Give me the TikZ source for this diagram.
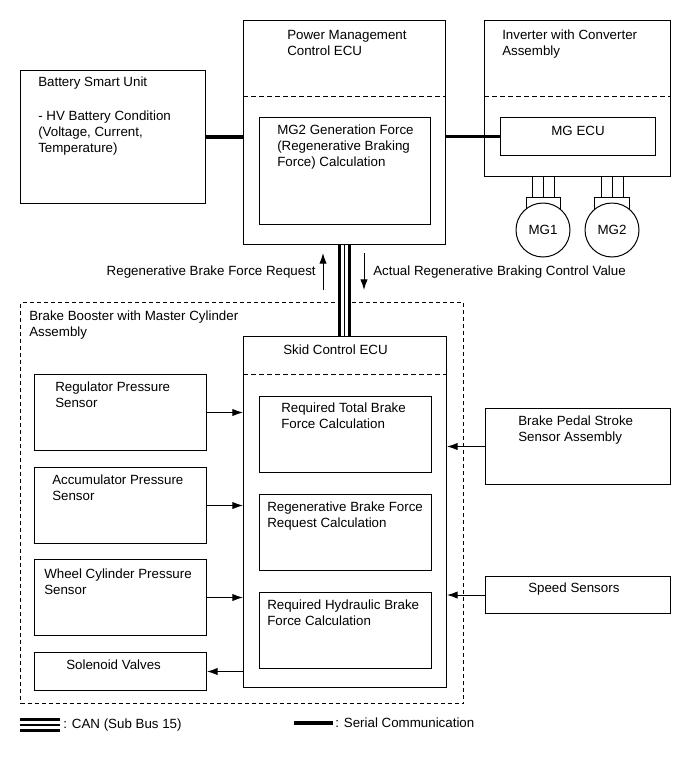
\documentclass[tikz,border=0pt]{standalone}
\usepackage{fontspec}
\setmainfont{Liberation Sans}
\usetikzlibrary{positioning,arrows.meta}

\begin{document}
\begin{tikzpicture}[x=0.75pt, y=-0.75pt,
    box/.style={draw, line width=0.75pt, anchor=north west, inner sep=0pt},
    txt/.style={anchor=north west, inner sep=0pt, align=left, font=\fontsize{10}{12}\selectfont},
    sep/.style={draw, line width=0.75pt, dash pattern=on 3.5pt off 2.5pt},
    line/.style={draw, line width=0.75pt, -{Latex[length=8pt, width=5.5pt]}},
    wire/.style={draw, line width=0.75pt},
    serial/.style={draw, line width=2.5pt},
    canbus/.style={draw, line width=10pt, postaction={draw=white, line width=5.5pt}, postaction={draw=black, line width=1.1pt}}]

    \useasboundingbox (0,0) rectangle (691,757);

    % hybrid side
    \node [box, minimum width=138.75pt, minimum height=99.75pt] (bsu) at (20,70) {};
    \node [txt] (bsu-t) at ([xshift=13.5pt, yshift=-5.25pt]bsu.north west) {Battery Smart Unit\\[13.5pt]- HV Battery Condition\\(Voltage, Current,\\Temperature)};

    \node [box, minimum width=151.5pt, minimum height=168pt] (pmc) at (243,20) {};
    \node [txt] (pmc-t) at ([xshift=33pt, yshift=-7.5pt]pmc.north west) {Power Management\\Control ECU};
    \path [sep] ([yshift=-57pt]pmc.north west) -- ([yshift=-57pt]pmc.north east);
    \node [box, minimum width=128.25pt, minimum height=80.25pt] (mg2c) at (259,117) {};
    \node [txt] (mg2c-t) at ([xshift=13.5pt, yshift=-6pt]mg2c.north west) {MG2 Generation Force\\(Regenerative Braking\\Force) Calculation};

    \node [box, minimum width=139.5pt, minimum height=117pt] (inv) at (484,20) {};
    \node [txt] (inv-t) at ([xshift=13.5pt, yshift=-7.5pt]inv.north west) {Inverter with Converter\\Assembly};
    \path [sep] ([yshift=-57pt]inv.north west) -- ([yshift=-57pt]inv.north east);
    \node [box, minimum width=116.25pt, minimum height=28.5pt] (mgecu) at (500,117) {};
    \node [txt, anchor=center] (mgecu-t) at ([yshift=4.5pt]mgecu.center) {MG ECU};

    % motors
    \node [box, anchor=center, minimum width=25.5pt, minimum height=11.25pt] (mg1s) at (543,204.5) {};
    \node [box, anchor=center, minimum width=26.25pt, minimum height=11.25pt] (mg2s) at (612,204.5) {};
    \foreach \dx in {-8.25,0,8.25} {
        \path [wire] ([xshift=\dx pt]mg1s.north) -- ([xshift=\dx pt]mg1s.north |- inv.south);
        \path [wire] ([xshift=\dx pt]mg2s.north) -- ([xshift=\dx pt]mg2s.north |- inv.south);
    }
    \node [box, anchor=center, circle, fill=white, minimum size=40.5pt, font=\fontsize{10}{12}\selectfont] (mg1) at (543,230) {MG1};
    \node [box, anchor=center, circle, fill=white, minimum size=40.5pt, font=\fontsize{10}{12}\selectfont] (mg2) at (612,230) {MG2};

    \path [serial] (bsu.east) -- (bsu.east -| pmc.west);
    \path [serial] (mgecu.west -| pmc.east) -- (mgecu.west);

    % brake side
    \node [box, dash pattern=on 3pt off 2.25pt, minimum width=332.25pt, minimum height=300.75pt] (booster) at (20,302) {};
    \node [txt] (booster-t) at ([xshift=6.75pt, yshift=-6.75pt]booster.north west) {Brake Booster with Master Cylinder\\Assembly};

    \node [box, minimum width=152.25pt, minimum height=263.25pt] (skid) at (243,336) {};
    \node [txt] (skid-t) at ([xshift=30pt, yshift=-6.75pt]skid.north west) {Skid Control ECU};
    \path [sep] ([yshift=-28.5pt]skid.north west) -- ([yshift=-28.5pt]skid.north east);
    \node [box, minimum width=129pt, minimum height=57pt] (tbf) at (259,396) {};
    \node [box, minimum width=129pt, minimum height=57pt, below=15.75pt of tbf] (rbf) {};
    \node [box, minimum width=129pt, minimum height=57pt, below=15.75pt of rbf] (hbf) {};
    \node [txt] (tbf-t) at ([xshift=16.5pt, yshift=-5.25pt]tbf.north west) {Required Total Brake\\Force Calculation};
    \node [txt] (rbf-t) at ([xshift=6pt, yshift=-6pt]rbf.north west) {Regenerative Brake Force\\Request Calculation};
    \node [txt] (hbf-t) at ([xshift=6pt, yshift=-6pt]hbf.north west) {Required Hydraulic Brake\\Force Calculation};

    \node [box, minimum width=129pt, minimum height=57pt] (reg) at (34,374) {};
    \node [box, minimum width=129pt, minimum height=57pt, below=12pt of reg] (acc) {};
    \node [box, minimum width=129pt, minimum height=57pt, below=11.25pt of acc] (whl) {};
    \node [box, minimum width=129pt, minimum height=28.5pt, below=12pt of whl] (sol) {};
    \node [txt] (reg-t) at ([xshift=15.75pt, yshift=-6pt]reg.north west) {Regulator Pressure\\Sensor};
    \node [txt] (acc-t) at ([xshift=13.5pt, yshift=-6pt]acc.north west) {Accumulator Pressure\\Sensor};
    \node [txt] (whl-t) at ([xshift=7.5pt, yshift=-7.5pt]whl.north west) {Wheel Cylinder Pressure\\Sensor};
    \node [txt] (sol-t) at ([xshift=24pt, yshift=-6pt]sol.north west) {Solenoid Valves};

    \node [box, minimum width=138.75pt, minimum height=57pt] (bps) at (485,408) {};
    \node [box, minimum width=138.75pt, minimum height=27.75pt] (spd) at (485,576) {};
    \node [txt] (bps-t) at ([xshift=24.75pt, yshift=-6pt]bps.north west) {Brake Pedal Stroke\\Sensor Assembly};
    \node [txt] (spd-t) at ([xshift=32.25pt, yshift=-5.25pt]spd.north west) {Speed Sensors};

    \path [line] (reg.east) -- (reg.east -| skid.west);
    \path [line] (acc.east) -- (acc.east -| skid.west);
    \path [line] (whl.east) -- (whl.east -| skid.west);
    \path [line] (sol.east -| skid.west) -- (sol.east);
    \path [line] (bps.west) -- (bps.west -| skid.east);
    \path [line] (spd.west) -- (spd.west -| skid.east);

    % CAN between the two ECUs
    \path [canbus] (pmc.south) -- (pmc.south |- skid.north);
    \coordinate (req-lo) at (323,290);
    \coordinate (req-hi) at (323,253);
    \coordinate (act-hi) at (364,253);
    \coordinate (act-lo) at (364,290);
    \path [line] (req-lo) -- (req-hi);
    \path [line] (act-hi) -- (act-lo);
    \node [txt, anchor=east] (req-t) at (316,272) {Regenerative Brake Force Request};
    \node [txt, anchor=west] (act-t) at (373,272) {Actual Regenerative Braking Control Value};

    % legend
    \coordinate (can-a) at (20,725);
    \coordinate (can-b) at (60,725);
    \path [canbus] (can-a) -- (can-b);
    \node [txt, anchor=west] (can-t) at (63,725) {: CAN (Sub Bus 15)};
    \coordinate (ser-a) at (294,723);
    \coordinate (ser-b) at (333,723);
    \path [serial] (ser-a) -- (ser-b);
    \node [txt, anchor=west] (ser-t) at (335,723) {: Serial Communication};
\end{tikzpicture}
\end{document}
